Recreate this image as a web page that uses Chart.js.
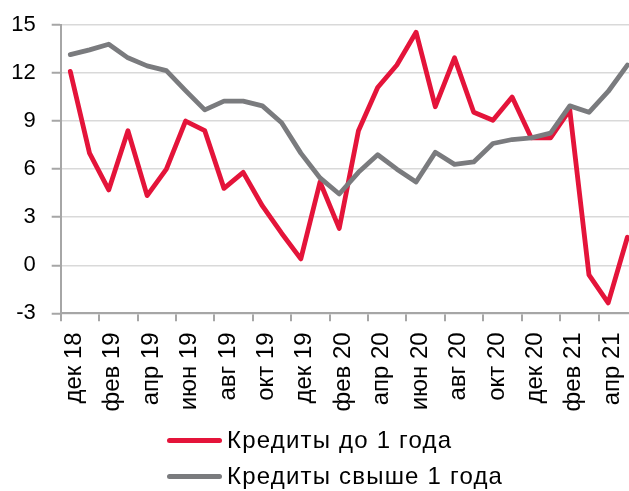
<!DOCTYPE html>
<html>
<head>
<meta charset="utf-8">
<script src="https://cdn.jsdelivr.net/npm/chart.js@4.4.1/dist/chart.umd.min.js"></script>
<style>
  html, body { margin:0; padding:0; width:629px; height:491px; overflow:hidden; background:#fff; }
  #wrap { position:absolute; left:0; top:0; width:637px; height:491px; }
  .leg { position:absolute; left:167px; font-family:"Liberation Sans", Arial, sans-serif; font-size:24px; letter-spacing:1.2px; color:#000; display:flex; align-items:center; height:36px; white-space:nowrap; }
  .sw { width:55px; height:5px; border-radius:3px; margin-right:5px; }
</style>
</head>
<body>
<div id="wrap"><canvas id="c"></canvas></div>
<div class="leg" style="top:422px"><span class="sw" style="background:#E4143A"></span>Кредиты до 1 года</div>
<div class="leg" style="top:458px"><span class="sw" style="background:#7A7B7E"></span>Кредиты свыше 1 года</div>
<script>
const months = ['дек 18','янв 19','фев 19','мар 19','апр 19','май 19','июн 19','июл 19','авг 19','сен 19','окт 19','ноя 19',
  'дек 19','янв 20','фев 20','мар 20','апр 20','май 20','июн 20','июл 20','авг 20','сен 20','окт 20','ноя 20',
  'дек 20','янв 21','фев 21','мар 21','апр 21','май 21'];
const shortTerm = [12.1,7.0,4.7,8.4,4.35,6.0,9.0,8.4,4.8,5.8,3.7,2.0,0.4,5.2,2.3,8.4,11.1,12.5,14.55,9.9,12.95,9.55,9.05,10.5,7.95,7.95,9.7,-0.6,-2.35,1.75];
const longTerm = [13.15,13.45,13.8,12.95,12.45,12.15,10.9,9.7,10.25,10.25,9.95,8.9,7.0,5.45,4.45,5.8,6.9,6.0,5.2,7.05,6.3,6.45,7.6,7.85,7.95,8.25,9.95,9.55,10.85,12.5];
const seriesNames = ['Кредиты до 1 года','Кредиты свыше 1 года'];
const yMin = -3, yMax = 15, yStep = 3;

const FAMILY = '"Liberation Sans", Arial, sans-serif';
new Chart(document.getElementById('c'), {
  type:'line',
  data:{
    labels: months,
    datasets:[
      {label:seriesNames[1], data:longTerm, borderColor:'#7A7B7E', borderWidth:4.8, pointRadius:0, tension:0, borderJoinStyle:'round', borderCapStyle:'round'},
      {label:seriesNames[0], data:shortTerm, borderColor:'#E4143A', borderWidth:4.8, pointRadius:0, tension:0, borderJoinStyle:'round', borderCapStyle:'round'}
    ]
  },
  options:{
    responsive:true, maintainAspectRatio:false, animation:false,
    layout:{padding:{top:25,left:0,right:0,bottom:0}},
    plugins:{legend:{display:false}, tooltip:{enabled:false}},
    scales:{
      x:{
        type:'category', offset:true,
        grid:{offset:true, drawOnChartArea:false, tickLength:8, lineWidth:2,
          color:(ctx)=> (ctx.index % 2 === 0 ? '#A6A6A6' : 'rgba(0,0,0,0)')},
        border:{color:'#A6A6A6', width:2},
        ticks:{autoSkip:false, maxRotation:90, minRotation:90, padding:11, labelOffset:4, color:'#000', font:{family:FAMILY, size:24},
          callback:function(v,i){ return i % 2 === 0 ? this.getLabelForValue(v) : ''; }},
        afterFit:(s)=>{ s.height = 491 - 313.3; s.paddingLeft = 0; s.paddingRight = 0; }
      },
      y:{
        min:yMin, max:yMax,
        ticks:{stepSize:yStep, padding:16, color:'#000', font:{family:FAMILY, size:22}},
        grid:{color:'#D9D9D9', lineWidth:1.5, tickLength:9, tickColor:'#A6A6A6', tickWidth:2},
        border:{color:'#A6A6A6', width:2},
        afterFit:(s)=>{ s.width = 60.7; s.paddingTop = 0; s.paddingBottom = 0; }
      }
    }
  }
});
</script>
</body>
</html>
